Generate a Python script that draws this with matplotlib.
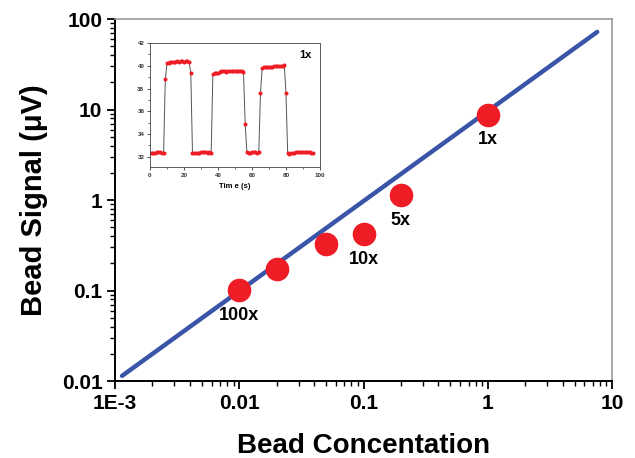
import numpy as np
import matplotlib
matplotlib.use("Agg")
import matplotlib.pyplot as plt
from matplotlib.ticker import LogLocator, FixedLocator, NullFormatter, MultipleLocator

plt.rcParams['font.family'] = ['Liberation Sans', 'DejaVu Sans']

# main data
conc = [0.01, 0.02, 0.05, 0.1, 0.2, 1.0]
signal = [0.101, 0.173, 0.327, 0.42, 1.13, 8.7]
point_labels = {0.01: "100x", 0.1: "10x", 0.2: "5x", 1.0: "1x"}

# fit line end points
fit_x = [0.00114, 7.6]
fit_y = [0.0114, 72.0]

# inset time trace (1x)
time_s = list(range(97))
trace = [32.3, 32.3, 32.3, 32.3, 32.4, 32.4, 32.4, 32.35, 32.3,
         38.8,
         40.2, 40.25, 40.3, 40.3, 40.35, 40.35, 40.4, 40.35, 40.4, 40.4, 40.35, 40.4, 40.4, 40.35,
         39.4,
         32.3, 32.3, 32.3, 32.35, 32.35, 32.4, 32.4, 32.4, 32.4, 32.35, 32.4, 32.35,
         39.3, 39.35, 39.4, 39.4, 39.45, 39.5, 39.5, 39.5, 39.45, 39.5, 39.5, 39.5, 39.5, 39.5,
         39.5, 39.5, 39.5, 39.5, 39.45,
         34.9,
         32.4, 32.35, 32.35, 32.4, 32.4, 32.4, 32.35, 32.4,
         37.6,
         39.8, 39.85, 39.85, 39.9, 39.9, 39.9, 39.9, 39.95, 39.95, 39.95, 40.0, 40.0, 40.0, 40.05,
         37.6,
         32.3, 32.25, 32.3, 32.35, 32.35, 32.4, 32.4, 32.4, 32.4, 32.4, 32.4, 32.4, 32.4, 32.4,
         32.35, 32.35]

fig = plt.figure(figsize=(6.35, 4.58), dpi=100)
ax = fig.add_axes([0.1811, 0.1681, 0.7827, 0.7904])

ax.plot(fit_x, fit_y, color='#3a55a8', lw=3.2, solid_capstyle='round', zorder=2)
ax.plot(conc, signal, 'o', color='#ee1c24', ms=17, mec='none', zorder=3)

ax.set_xscale('log')
ax.set_yscale('log')
ax.set_xlim(1e-3, 10)
ax.set_ylim(0.01, 100)

ax.xaxis.set_major_locator(FixedLocator([1e-3, 1e-2, 1e-1, 1, 10]))
ax.set_xticklabels(["1E-3", "0.01", "0.1", "1", "10"])
ax.yaxis.set_major_locator(FixedLocator([1e-2, 1e-1, 1, 10, 100]))
ax.set_yticklabels(["0.01", "0.1", "1", "10", "100"])
ax.xaxis.set_minor_locator(LogLocator(base=10, subs=np.arange(2, 10)))
ax.yaxis.set_minor_locator(LogLocator(base=10, subs=np.arange(2, 10)))
ax.xaxis.set_minor_formatter(NullFormatter())
ax.yaxis.set_minor_formatter(NullFormatter())

ax.tick_params(which='major', direction='out', length=6, width=1.3, labelsize=15, pad=3)
ax.tick_params(which='minor', direction='out', length=3.5, width=1.0)
for lab in ax.get_xticklabels() + ax.get_yticklabels():
    lab.set_fontweight('bold')

for side in ['left', 'bottom']:
    ax.spines[side].set_linewidth(1.4)
    ax.spines[side].set_color('black')
for side in ['top', 'right']:
    ax.spines[side].set_linewidth(1.2)
    ax.spines[side].set_color('#999999')

ax.set_xlabel("Bead Concentation", fontsize=20, fontweight='bold', labelpad=15)
ax.set_ylabel("Bead Signal (\u03bcV)", fontsize=21, fontweight='bold', labelpad=10)

for x, y in zip(conc, signal):
    if x in point_labels:
        ax.annotate(point_labels[x], (x, y), xytext=(0, -18), textcoords='offset points',
                    ha='center', va='center', fontsize=13, fontweight='bold')

# inset
axin = fig.add_axes([0.2362, 0.6354, 0.2677, 0.2707])
axin.plot(time_s, trace, color='#555555', lw=0.7, zorder=1)
axin.plot(time_s, trace, 'o', color='#ee1c24', ms=2.9, mec='none', zorder=2)
axin.set_xlim(0, 100)
axin.set_ylim(31.1, 42)
axin.xaxis.set_major_locator(MultipleLocator(20))
axin.xaxis.set_minor_locator(MultipleLocator(10))
axin.yaxis.set_major_locator(MultipleLocator(2))
axin.yaxis.set_minor_locator(MultipleLocator(1))
axin.tick_params(which='major', direction='out', length=2.5, width=0.6, labelsize=4.5, pad=1.5,
                 colors='#333333')
axin.tick_params(which='minor', direction='out', length=1.5, width=0.5, colors='#333333')
for lab in axin.get_xticklabels() + axin.get_yticklabels():
    lab.set_fontweight('bold')
for side in axin.spines:
    axin.spines[side].set_linewidth(0.6)
    axin.spines[side].set_color('#444444')
axin.set_xlabel("Tim e (s)", fontsize=5.5, fontweight='bold', labelpad=4)
axin.text(0.95, 0.9, "1x", transform=axin.transAxes, ha='right', va='center',
          fontsize=8, fontweight='bold')

fig.savefig("out.png", dpi=100)
